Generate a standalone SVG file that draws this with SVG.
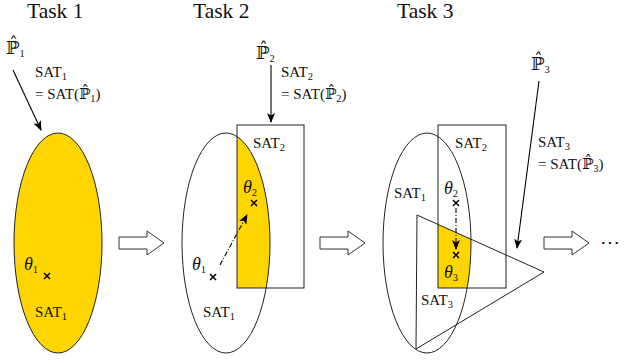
<svg xmlns="http://www.w3.org/2000/svg" width="626" height="364" viewBox="0 0 626 364">
<style>
.title{font-size:21.5px}
.lab{font-size:15px}
.sub{font-size:10.5px;font-style:normal}
.th{font-style:italic;font-size:18px}
.sh{fill:none;stroke:#222;stroke-width:1}
.y{fill:#FFD500}
.cross{stroke:#000;stroke-width:1.5;fill:none}
.con{stroke:#000;stroke-width:1.1;fill:none}
.dd{stroke:#000;stroke-width:1.1;fill:none;stroke-dasharray:5 2 1 2}
.big{fill:#fff;stroke:#333;stroke-width:1}
</style>
<defs>
<marker id="ah" viewBox="0 0 10 8" refX="9" refY="4" markerWidth="10" markerHeight="8" markerUnits="userSpaceOnUse" orient="auto"><path d="M0,0 L10,4 L0,8 L2.5,4 Z" fill="#000"/></marker>
<clipPath id="e2"><ellipse cx="226" cy="243" rx="44" ry="110"/></clipPath>
<clipPath id="e3"><ellipse cx="427" cy="243" rx="44" ry="110"/></clipPath>
<clipPath id="r3"><rect x="438" y="125" width="68" height="163"/></clipPath>
<path id="x" d="M-3,-3 L3,3 M-3,3 L3,-3"/>
<path id="bigarrow" d="M0,-6 L28,-6 L28,-12 L45,0 L28,12 L28,6 L0,6 Z"/>
</defs>

<g id="titles" fill="#111">
<text font-family="Liberation Serif" class="title" x="27" y="18">Task 1</text>
<text font-family="Liberation Serif" class="title" x="193" y="18">Task 2</text>
<text font-family="Liberation Serif" class="title" x="397" y="18">Task 3</text>
</g>

<g id="task1" fill="#111">
<ellipse cx="58" cy="243" rx="44" ry="110" class="y" stroke="#222" stroke-width="1"/>
<text font-family="Liberation Serif" class="th" x="24" y="270">θ<tspan class="sub" dy="3">1</tspan></text>
<use href="#x" class="cross" x="47" y="276"/>
<text font-family="Liberation Serif" class="lab" x="35" y="317">SAT<tspan class="sub" dy="3">1</tspan></text>
<text font-family="Liberation Serif" x="6" y="54" font-size="18"><tspan font-family="DejaVu Serif">ℙ̂</tspan><tspan class="sub" dy="3">1</tspan></text>
<text font-family="Liberation Serif" class="lab" x="35" y="77">SAT<tspan class="sub" dy="3">1</tspan></text>
<text font-family="Liberation Serif" class="lab" x="35" y="99">= SAT(<tspan font-family="DejaVu Serif">ℙ̂</tspan><tspan class="sub" dy="3">1</tspan><tspan dy="-3">)</tspan></text>
</g>

<g id="task2" fill="#111">
<rect x="237" y="125" width="67" height="163" class="y" clip-path="url(#e2)"/>
<ellipse cx="226" cy="243" rx="44" ry="110" class="sh"/>
<rect x="237" y="125" width="67" height="163" class="sh"/>
<text font-family="Liberation Serif" class="lab" x="253" y="148">SAT<tspan class="sub" dy="3">2</tspan></text>
<text font-family="Liberation Serif" class="th" x="243" y="193">θ<tspan class="sub" dy="3">2</tspan></text>
<use href="#x" class="cross" x="254" y="203"/>
<text font-family="Liberation Serif" class="th" x="192" y="270">θ<tspan class="sub" dy="3">1</tspan></text>
<use href="#x" class="cross" x="213" y="277"/>
<text font-family="Liberation Serif" class="lab" x="203" y="317">SAT<tspan class="sub" dy="3">1</tspan></text>
<text font-family="Liberation Serif" x="256" y="59" font-size="18"><tspan font-family="DejaVu Serif">ℙ̂</tspan><tspan class="sub" dy="3">2</tspan></text>
<text font-family="Liberation Serif" class="lab" x="281" y="77">SAT<tspan class="sub" dy="3">2</tspan></text>
<text font-family="Liberation Serif" class="lab" x="281" y="99">= SAT(<tspan font-family="DejaVu Serif">ℙ̂</tspan><tspan class="sub" dy="3">2</tspan><tspan dy="-3">)</tspan></text>
</g>

<g id="task3" fill="#111">
<g clip-path="url(#e3)"><polygon points="417,215 544,272 416,349" class="y" clip-path="url(#r3)"/></g>
<ellipse cx="427" cy="243" rx="44" ry="110" class="sh"/>
<rect x="438" y="125" width="68" height="163" class="sh"/>
<polygon points="417,215 544,272 416,349" class="sh"/>
<text font-family="Liberation Serif" class="lab" x="455" y="148">SAT<tspan class="sub" dy="3">2</tspan></text>
<text font-family="Liberation Serif" class="lab" x="394" y="198">SAT<tspan class="sub" dy="3">1</tspan></text>
<text font-family="Liberation Serif" class="th" x="444" y="194">θ<tspan class="sub" dy="3">2</tspan></text>
<use href="#x" class="cross" x="456" y="203"/>
<use href="#x" class="cross" x="456" y="255"/>
<text font-family="Liberation Serif" class="th" x="444" y="278">θ<tspan class="sub" dy="3">3</tspan></text>
<text font-family="Liberation Serif" class="lab" x="421" y="305">SAT<tspan class="sub" dy="3">3</tspan></text>
<text font-family="Liberation Serif" x="531" y="70" font-size="18"><tspan font-family="DejaVu Serif">ℙ̂</tspan><tspan class="sub" dy="3">3</tspan></text>
<text font-family="Liberation Serif" class="lab" x="538" y="147">SAT<tspan class="sub" dy="3">3</tspan></text>
<text font-family="Liberation Serif" class="lab" x="538" y="169">= SAT(<tspan font-family="DejaVu Serif">ℙ̂</tspan><tspan class="sub" dy="3">3</tspan><tspan dy="-3">)</tspan></text>
</g>

<g id="connectors" fill="#111">
<line x1="13" y1="70" x2="41" y2="130" class="con" marker-end="url(#ah)"/>
<line x1="271" y1="65" x2="271" y2="122" class="con" marker-end="url(#ah)"/>
<line x1="539" y1="81" x2="517" y2="248" class="con" marker-end="url(#ah)"/>
<line x1="220" y1="265" x2="247" y2="215" class="dd" marker-end="url(#ah)"/>
<line x1="456" y1="208" x2="456" y2="249" class="dd" marker-end="url(#ah)"/>
<use href="#bigarrow" class="big" x="119" y="243"/>
<use href="#bigarrow" class="big" x="320" y="243"/>
<use href="#bigarrow" class="big" x="544" y="243"/>
<text font-family="DejaVu Serif" x="600" y="249" font-size="20">⋯</text>
</g>
</svg>
